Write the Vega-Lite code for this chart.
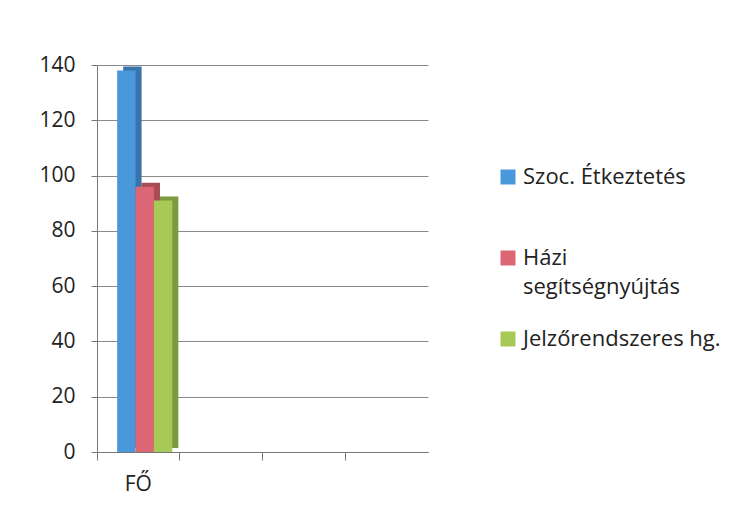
{
  "$schema": "https://vega.github.io/schema/vega-lite/v6.json",
  "width": 331,
  "height": 387,
  "autosize": "none",
  "padding": {"left": 97, "top": 65, "right": 316, "bottom": 72},
  "background": "white",
  "data": {
    "values": [
      {"kategoria": "FŐ", "szolgaltatas": "Szoc. Étkeztetés", "ertek": 138},
      {"kategoria": "FŐ", "szolgaltatas": "Házi segítségnyújtás", "ertek": 96},
      {"kategoria": "FŐ", "szolgaltatas": "Jelzőrendszeres hg.", "ertek": 91}
    ]
  },
  "encoding": {
    "x": {
      "field": "kategoria",
      "type": "nominal",
      "scale": {"domain": ["FŐ", "k2", "k3", "k4"], "paddingInner": 0, "paddingOuter": 0},
      "axis": {
        "title": null,
        "labelAngle": 0,
        "labelExpr": "datum.value == 'FŐ' ? 'FŐ' : ''",
        "bandPosition": 0,
        "labelAlign": "center",
        "labelOffset": 0,
        "labelPadding": 13,
        "labelFont": "Open Sans",
        "labelFontSize": 21,
        "labelColor": "#222222",
        "tickColor": "#777777",
        "tickSize": 8,
        "domainColor": "#777777",
        "grid": false
      }
    },
    "y": {
      "field": "ertek",
      "type": "quantitative",
      "scale": {"domain": [0, 140], "nice": false},
      "axis": {
        "title": null,
        "values": [0, 20, 40, 60, 80, 100, 120, 140],
        "labelFont": "Open Sans",
        "labelFontSize": 21,
        "labelColor": "#222222",
        "labelPadding": 16,
        "tickColor": "#777777",
        "tickSize": 6,
        "domainColor": "#777777",
        "gridColor": "#8a8a8a",
        "gridWidth": 1
      }
    }
  },
  "layer": [
    {
      "mark": {"type": "bar", "stroke": null, "yOffset": -4},
      "encoding": {
        "xOffset": {
          "field": "szolgaltatas",
          "type": "nominal",
          "sort": ["Szoc. Étkeztetés", "Házi segítségnyújtás", "Jelzőrendszeres hg."],
          "scale": {"paddingInner": 0, "paddingOuter": 0.75, "align": 0.95}
        },
        "color": {
          "field": "szolgaltatas",
          "type": "nominal",
          "scale": {
            "domain": ["Szoc. Étkeztetés", "Házi segítségnyújtás", "Jelzőrendszeres hg."],
            "range": ["#3a73a8", "#a84c55", "#7d9a3e"]
          },
          "legend": null
        }
      }
    },
    {
      "mark": {"type": "bar", "stroke": null},
      "encoding": {
        "xOffset": {
          "field": "szolgaltatas",
          "type": "nominal",
          "sort": ["Szoc. Étkeztetés", "Házi segítségnyújtás", "Jelzőrendszeres hg."],
          "scale": {"paddingInner": 0, "paddingOuter": 0.75, "align": 0.73}
        },
        "color": {
          "field": "szolgaltatas",
          "type": "nominal",
          "sort": ["Szoc. Étkeztetés", "Házi segítségnyújtás", "Jelzőrendszeres hg."],
          "scale": {
            "domain": ["Szoc. Étkeztetés", "Házi segítségnyújtás", "Jelzőrendszeres hg."],
            "range": ["#4a98dc", "#dc6673", "#a6ca55"]
          },
          "legend": {
            "title": null,
            "orient": "none",
            "legendX": 400,
            "legendY": 101,
            "symbolType": "square",
            "symbolSize": 225,
            "symbolStrokeWidth": 0,
            "labelFont": "Open Sans",
            "labelFontSize": 22,
            "labelColor": "#222222",
            "labelLimit": 320,
            "rowPadding": 30,
            "labelOffset": 4,
            "labelExpr": "datum.label == 'Házi segítségnyújtás' ? ['Házi', 'segítségnyújtás'] : [datum.label, '']",
            "encode": {
              "labels": {
                "update": {
                  "baseline": {"value": "top"},
                  "dy": {"value": -14},
                  "lineHeight": {"value": 29}
                }
              }
            }
          }
        }
      }
    }
  ],
  "resolve": {"scale": {"color": "independent", "xOffset": "independent"}},
  "config": {
    "view": {"stroke": null},
    "style": {"guide-label": {"lineHeight": 29}}
  }
}
